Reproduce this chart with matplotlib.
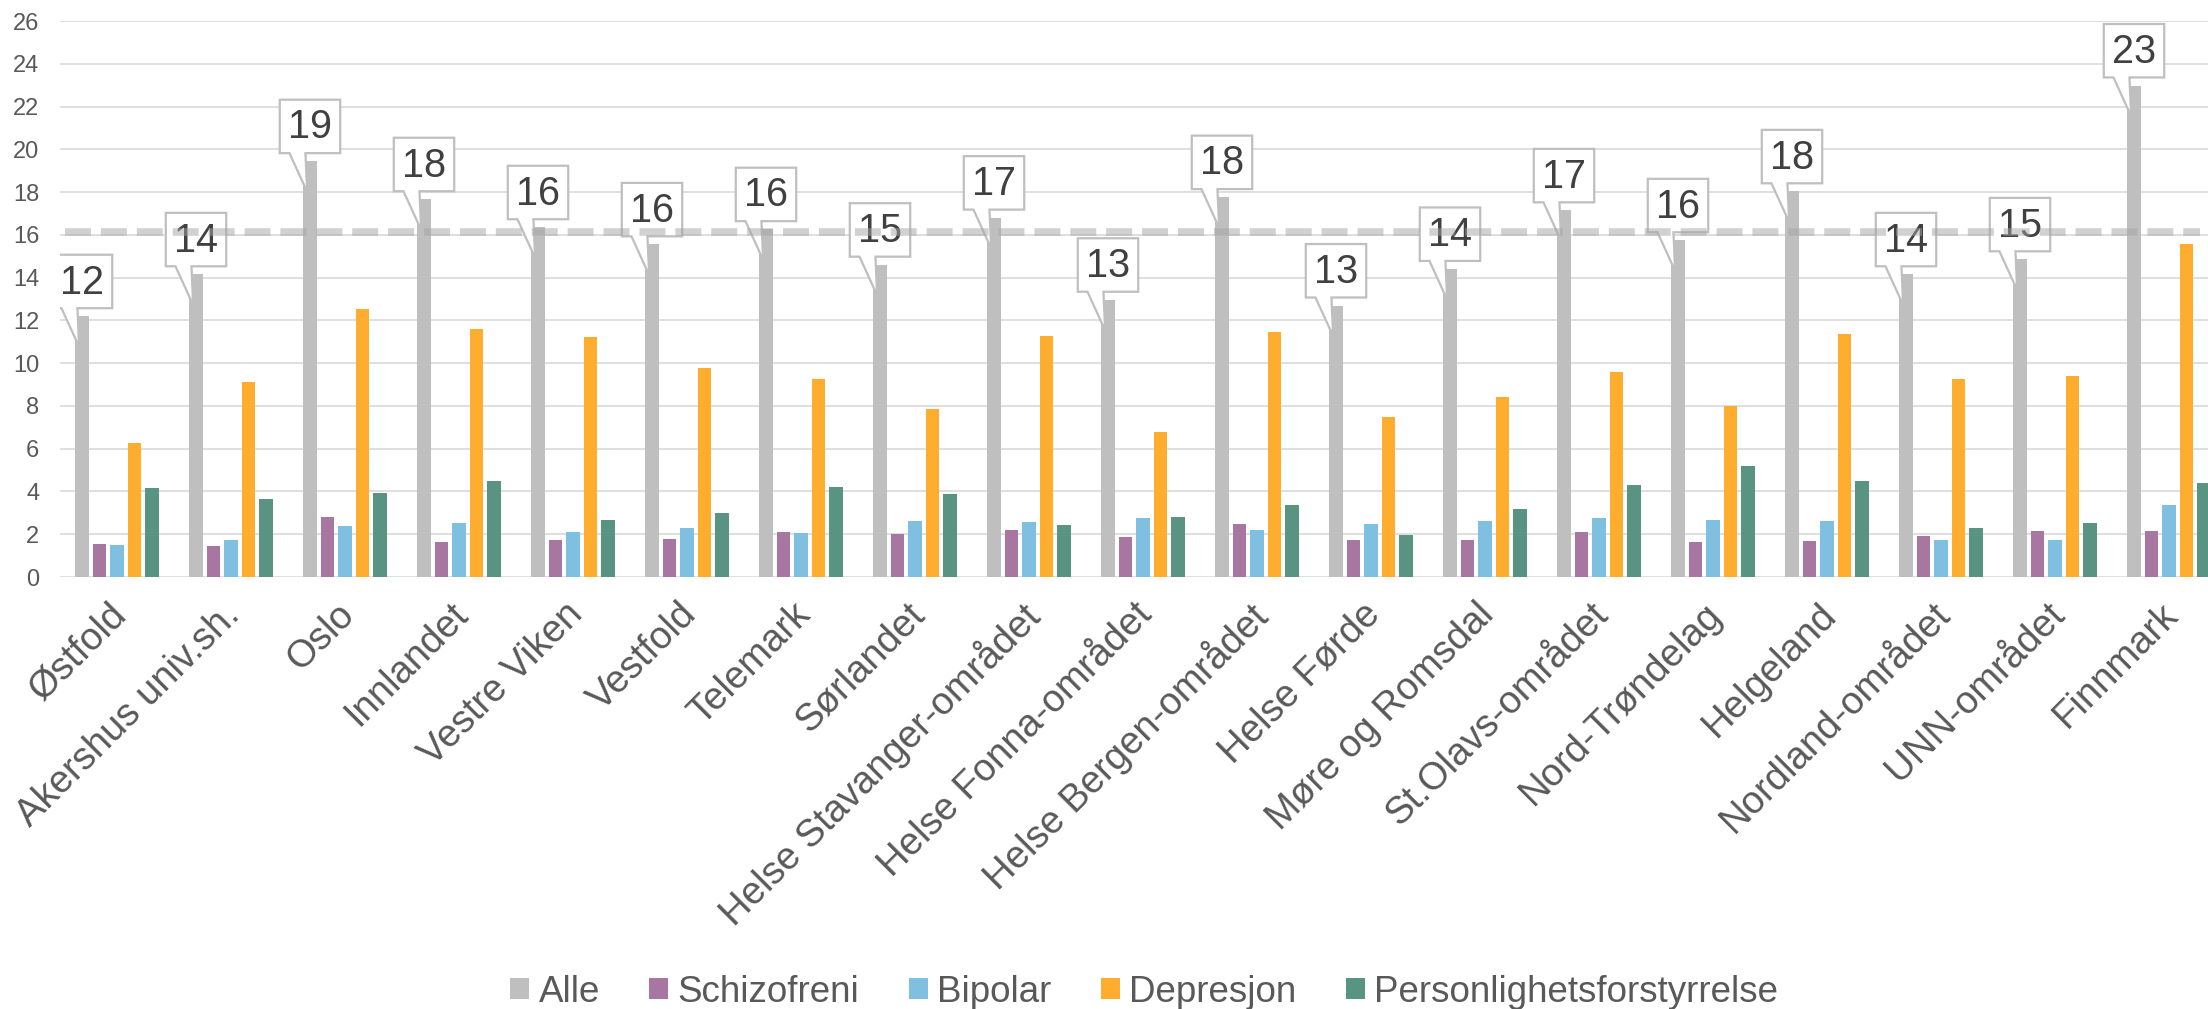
import matplotlib
matplotlib.use("Agg")
import matplotlib.pyplot as plt
from matplotlib.patches import Patch, Polygon
from matplotlib.transforms import ScaledTranslation
import numpy as np

plt.rcParams['font.family'] = ['Liberation Sans', 'DejaVu Sans']

# Data
omrader = ["Østfold", "Akershus univ.sh.", "Oslo", "Innlandet", "Vestre Viken",
           "Vestfold", "Telemark", "Sørlandet", "Helse Stavanger-området",
           "Helse Fonna-området", "Helse Bergen-området", "Helse Førde",
           "Møre og Romsdal", "St.Olavs-området", "Nord-Trøndelag", "Helgeland",
           "Nordland-området", "UNN-området", "Finnmark"]
alle = [12.19, 14.15, 19.44, 17.66, 16.35, 15.55, 16.26, 14.60, 16.80, 12.96,
        17.76, 12.69, 14.40, 17.14, 15.74, 18.03, 14.15, 14.85, 22.98]
schizofreni = [1.55, 1.43, 2.81, 1.63, 1.72, 1.77, 2.11, 2.00, 2.18, 1.88,
               2.50, 1.73, 1.72, 2.09, 1.66, 1.70, 1.91, 2.14, 2.14]
bipolar = [1.48, 1.75, 2.39, 2.52, 2.11, 2.27, 2.06, 2.64, 2.59, 2.77,
           2.20, 2.48, 2.61, 2.75, 2.68, 2.64, 1.75, 1.75, 3.36]
depresjon = [6.25, 9.13, 12.51, 11.58, 11.22, 9.77, 9.26, 7.84, 11.26, 6.77,
             11.44, 7.47, 8.42, 9.60, 8.01, 11.37, 9.27, 9.40, 15.58]
personlighet = [4.18, 3.65, 3.91, 4.49, 2.66, 2.98, 4.20, 3.86, 2.45, 2.81,
                3.36, 1.98, 3.18, 4.32, 5.18, 4.47, 2.27, 2.54, 4.40]
landssnitt = 16.12

serier = ["Alle", "Schizofreni", "Bipolar", "Depresjon", "Personlighetsforstyrrelse"]
farger = ["#BFBFBF", "#A777A2", "#7FBFDF", "#FFAD2F", "#599482"]
tekst = "#595959"

W, H = 2208, 1009
fig = plt.figure(figsize=(W / 100, H / 100), dpi=100)
ax = fig.add_axes([60 / W, (H - 577) / H, 1 - 60 / W, 556 / H])

x = np.arange(len(omrader))
steg = 0.1535
bredde = 0.12
for i, (navn, verdier, farge) in enumerate(zip(serier, [alle, schizofreni, bipolar, depresjon, personlighet], farger)):
    ax.bar(x + (i - 2) * steg, verdier, width=bredde, color=farge, zorder=2, label=navn)

# callout boxes for "Alle"
bw, bh = 0.53, 2.5
for xi, v in zip(x, alle):
    xc = xi - 2 * steg
    L, R = xc - bw / 2, xc + bw / 2
    B, T = v + 0.38, v + 0.38 + bh
    pts = [(L, B), (L + 0.085, B), (L + 0.24, v - 1.43), (L + 0.225, B),
           (R, B), (R, T), (L, T)]
    ax.add_patch(Polygon(pts, closed=True, facecolor="white", edgecolor="#BFBFBF",
                         linewidth=1.6, zorder=4, joinstyle="miter"))
    ax.text(xc, (B + T) / 2 - 0.05, f"{v:.0f}", ha="center", va="center",
            fontsize=28.5, color="#404040", zorder=5)

# dashed average line
ax.plot([-0.455, 18.27], [landssnitt, landssnitt], color="#A5A5A5", alpha=0.5,
        linewidth=5.5, linestyle=(0, (3.4, 1.3)), solid_capstyle="butt",
        dash_capstyle="butt", zorder=6)

ax.set_xlim(-0.5, -0.5 + 2148 / 114)
ax.set_ylim(0, 26)
ax.set_yticks(range(0, 27, 2))
ax.yaxis.grid(True, color="#D9D9D9", linewidth=1.2, zorder=0)
ax.set_axisbelow(True)
for s in ax.spines.values():
    s.set_visible(False)
ax.tick_params(axis="y", length=0, pad=15, labelsize=17, labelcolor=tekst)
ax.tick_params(axis="x", length=0, pad=14, labelsize=27.5, labelcolor=tekst)
ax.set_xticks(x)
ax.set_xticklabels(omrader, rotation=45, ha="right", va="top", rotation_mode="anchor")
forskyv = ScaledTranslation(-9 / 100, 0, fig.dpi_scale_trans)
for lab in ax.get_xticklabels():
    lab.set_transform(lab.get_transform() + forskyv)

handles = [Patch(facecolor=f, edgecolor="none") for f in farger]
leg = fig.legend(handles, serier, loc="center", bbox_to_anchor=(1144 / W, (H - 992) / H),
                 ncol=5, frameon=False, fontsize=26.5, handlelength=0.52, handleheight=0.52,
                 handletextpad=0.25, columnspacing=1.34, borderaxespad=0)
for t in leg.get_texts():
    t.set_color(tekst)

fig.savefig("out.png", dpi=100)
